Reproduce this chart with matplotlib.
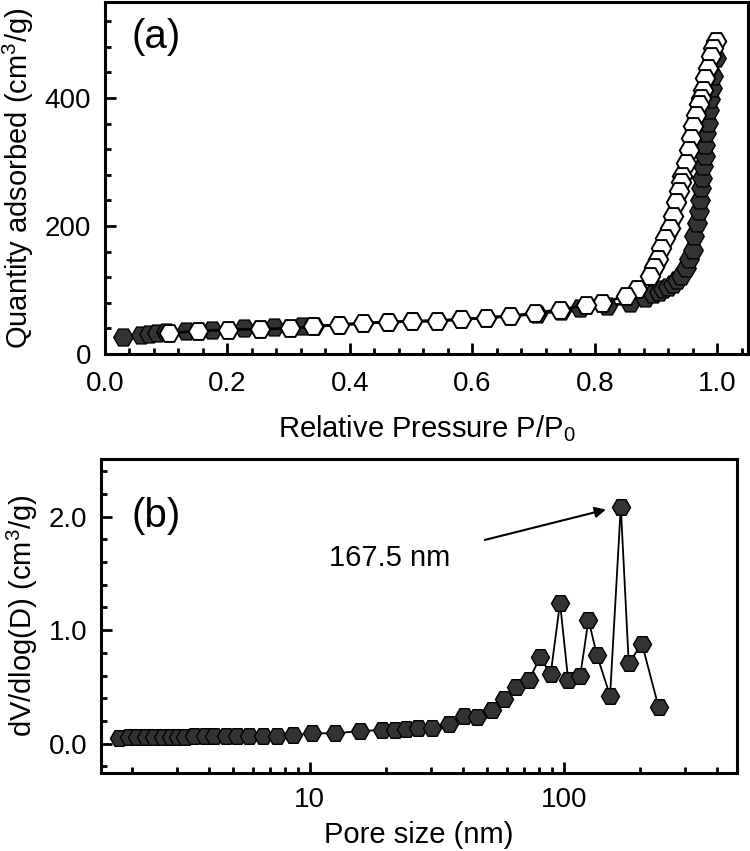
import numpy as np
import matplotlib
matplotlib.use("Agg")
import matplotlib.pyplot as plt

plt.rcParams['font.family'] = ['Liberation Sans', 'DejaVu Sans']

# (a) N2 isotherm
ads_p = [0.03, 0.058, 0.072, 0.085, 0.10, 0.132, 0.175, 0.227, 0.276, 0.322, 0.342, 0.382,
         0.422, 0.462, 0.502, 0.542, 0.582, 0.622, 0.662, 0.705, 0.745, 0.775, 0.819, 0.857,
         0.881, 0.895, 0.905, 0.911, 0.92, 0.927, 0.934, 0.941, 0.949, 0.954, 0.96, 0.962,
         0.966, 0.97, 0.971, 0.973, 0.975, 0.976, 0.979, 0.98, 0.982, 0.984, 0.986, 0.988,
         0.991, 0.993, 0.997]
ads_q = [27, 30, 31.5, 33, 34, 35.6, 38, 40, 42, 43, 43, 45.6,
         48, 50, 51, 52, 54, 57, 59, 63, 67, 72, 75, 80,
         88, 93, 97, 101, 105, 109, 115, 122, 135, 148, 163, 184,
         205, 223, 241, 260, 275, 293, 310, 327, 346, 361, 382, 398,
         416, 434, 462]

des_p = [0.997, 0.993, 0.99, 0.985, 0.98, 0.976, 0.973, 0.97, 0.965, 0.96, 0.957, 0.953,
         0.948, 0.943, 0.941, 0.937, 0.932, 0.927, 0.922, 0.914, 0.908, 0.903, 0.897, 0.890,
         0.868, 0.851, 0.811, 0.786, 0.743, 0.702, 0.661, 0.622, 0.582, 0.542, 0.502,
         0.462, 0.422, 0.382, 0.340, 0.302, 0.253, 0.201, 0.152, 0.104]
des_q = [489, 478, 465, 447, 431, 413, 400, 390, 374, 356, 338, 318,
         298, 278, 268, 255, 237, 215, 197, 181, 165, 148, 136, 122,
         102, 91, 79, 76, 69.5, 64, 59, 57, 54, 52, 51,
         50, 48, 45.6, 43, 40, 39, 38, 36, 32.6]

# (b) BJH pore size distribution
pore_d = [1.78, 1.94, 2.10, 2.27, 2.45, 2.65, 2.84, 3.04, 3.22, 3.52, 3.86, 4.22,
          4.69, 5.19, 5.78, 6.53, 7.45, 8.60, 10.2, 12.6, 15.8, 19.2, 21.6, 23.9,
          26.7, 30.2, 35.3, 40.6, 45.6, 52.1, 58.1, 64.7, 72.8, 80.8, 88.7, 96.6,
          104, 116, 125, 135, 152, 167.5, 180, 203, 236]
pore_v = [0.053, 0.054, 0.055, 0.056, 0.057, 0.058, 0.059, 0.06, 0.061, 0.062, 0.063, 0.064,
          0.065, 0.066, 0.067, 0.069, 0.07, 0.072, 0.09, 0.09, 0.11, 0.12, 0.12, 0.13,
          0.14, 0.14, 0.17, 0.24, 0.23, 0.30, 0.39, 0.50, 0.56, 0.76, 0.61, 1.24,
          0.56, 0.60, 1.09, 0.78, 0.42, 2.09, 0.71, 0.88, 0.32]

peak_label = "167.5 nm"
peak_xy = (150, 2.07)
arrow_tail = (47.7, 1.79)
label_xy = (20.7, 1.64)

dark = '#333333'

fig = plt.figure(figsize=(7.5, 8.51), dpi=100)
ax1 = fig.add_axes([105/750, 1-354/851, 643/750, 352/851])
ax2 = fig.add_axes([101/750, 1-773/851, 636/750, 314/851])

ax1.plot(ads_p, ads_q, '-', color='black', lw=2, marker='H', ms=14,
         mfc=dark, mec='black', mew=1.0)
ax1.plot(des_p, des_q, '-', color='black', lw=2, marker='H', ms=14,
         mfc='white', mec='black', mew=1.4)
ax1.set_xlim(0, 1.05)
ax1.set_ylim(0, 550)
ax1.set_xticks(np.arange(0, 1.01, 0.2))
ax1.set_xticks(np.arange(0, 1.05, 0.04), minor=True)
ax1.set_yticks([0, 200, 400])
ax1.set_yticks(np.arange(0, 550, 40), minor=True)
ax1.xaxis.set_major_formatter(matplotlib.ticker.FormatStrFormatter('%.1f'))
ax1.set_xlabel('Relative Pressure P/P$_\\mathregular{0}$', fontsize=21, labelpad=12)
ax1.set_ylabel('Quantity adsorbed (cm$^\\mathregular{3}$/g)', fontsize=21, labelpad=6)
ax1.text(0.079, 0.90, '(a)', transform=ax1.transAxes, fontsize=29,
         ha='center', va='center')

ax2.plot(pore_d, pore_v, '-', color='black', lw=1.3, marker='H', ms=13,
         mfc=dark, mec='black', mew=1.0)
ax2.set_xscale('log')
ax2.set_xlim(1.51, 480)
ax2.set_ylim(-0.26, 2.51)
ax2.set_yticks([0, 1, 2])
ax2.set_yticks(np.arange(-0.2, 2.5, 0.2), minor=True)
ax2.yaxis.set_major_formatter(matplotlib.ticker.FormatStrFormatter('%.1f'))
ax2.xaxis.set_major_formatter(matplotlib.ticker.FuncFormatter(lambda v, p: '%g' % v))
ax2.xaxis.set_minor_formatter(matplotlib.ticker.NullFormatter())
ax2.set_xlabel('Pore size (nm)', fontsize=21, labelpad=6)
ax2.set_ylabel('dV/dlog(D) (cm$^\\mathregular{3}$/g)', fontsize=21, labelpad=6)
ax2.text(0.086, 0.82, '(b)', transform=ax2.transAxes, fontsize=29,
         ha='center', va='center')
ax2.annotate('', xy=peak_xy, xytext=arrow_tail,
             arrowprops=dict(arrowstyle='-|>', color='black', lw=1.5, mutation_scale=16))
ax2.text(label_xy[0], label_xy[1], peak_label, fontsize=21, ha='center', va='center')

for ax in (ax1, ax2):
    for s in ax.spines.values():
        s.set_linewidth(2.2)
    ax.tick_params(which='both', direction='in', top=False, right=False,
                   labelsize=20, width=2)
    ax.tick_params(which='major', length=8, pad=10)
    ax.tick_params(which='minor', length=4)
ax1.tick_params(axis='x', which='major', pad=12)

fig.savefig('out.png', dpi=100)
